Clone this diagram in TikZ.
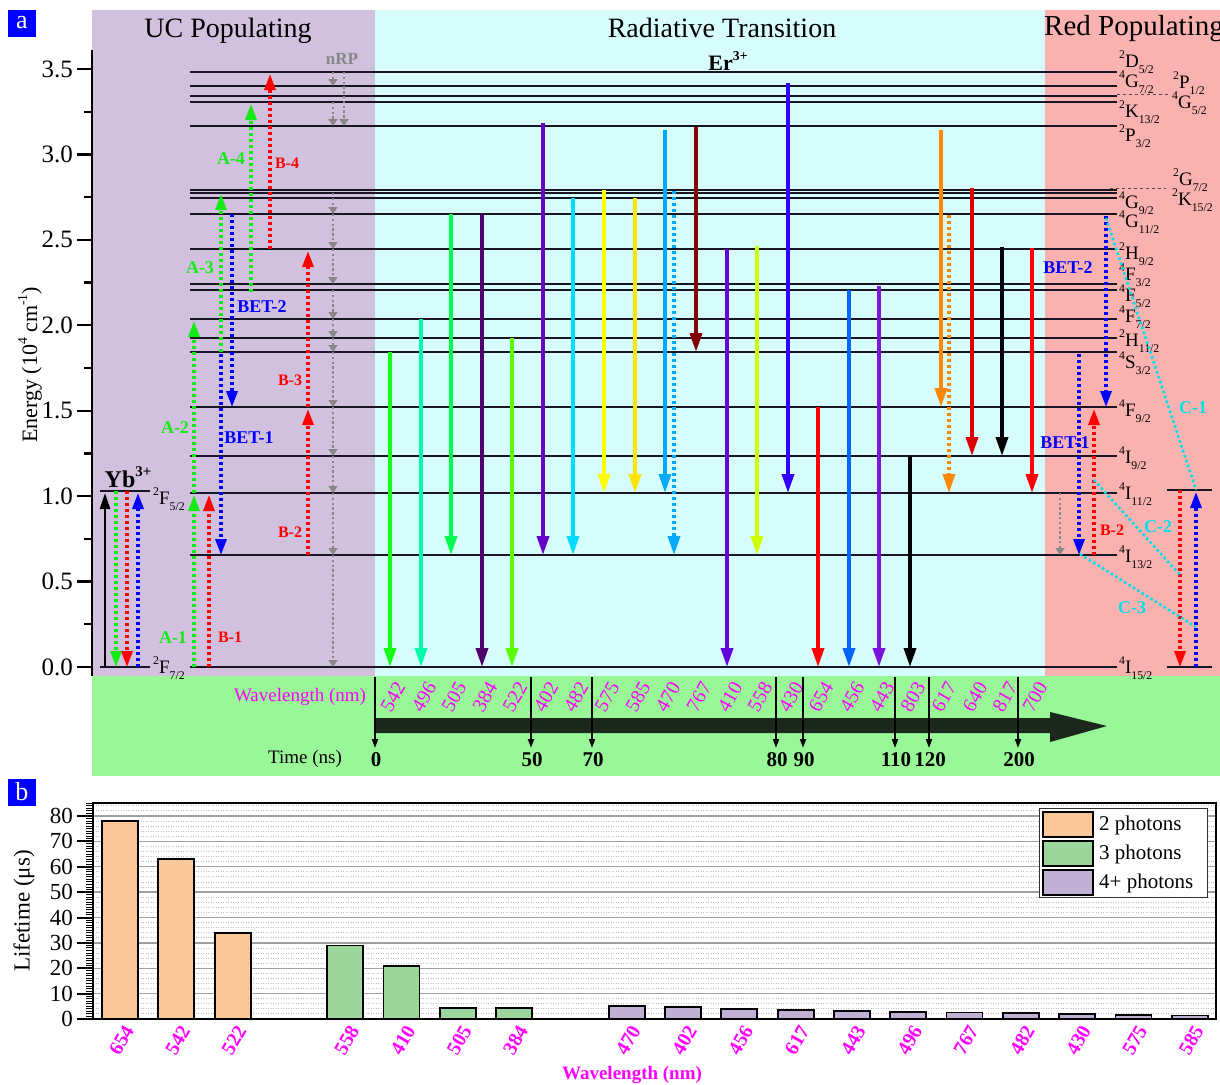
\documentclass[tikz,border=0pt]{standalone}
\usepackage{fontspec}
\usepackage{graphicx}
\setmainfont{Liberation Serif}
\usetikzlibrary{arrows.meta}
\newcommand{\fsz}[1]{\fontsize{#1}{#1}\selectfont}
\newcommand{\sux}[1]{\raisebox{0.45em}{\scalebox{0.62}{#1}}}
\newcommand{\sbx}[1]{\raisebox{-0.32em}{\scalebox{0.62}{#1}}}
\newcommand{\enlev}[3]{\sux{#1}#2\sbx{#3}}
\definecolor{ucbg}{RGB}{209,192,222}
\definecolor{rtbg}{RGB}{214,252,252}
\definecolor{rpbg}{RGB}{250,178,176}
\definecolor{tgbg}{RGB}{153,247,151}
\definecolor{lvlc}{RGB}{25,22,35}
\definecolor{mag}{RGB}{255,0,255}
\definecolor{pblue}{RGB}{0,0,255}
\definecolor{cgreen}{RGB}{20,235,20}
\definecolor{cred}{RGB}{255,0,0}
\definecolor{cblue}{RGB}{0,0,255}
\definecolor{ccyan}{RGB}{0,225,235}
\definecolor{nrpgray}{RGB}{135,135,135}
\definecolor{tarrow}{RGB}{28,40,28}
\definecolor{barO}{RGB}{250,200,152}
\definecolor{barG}{RGB}{156,214,156}
\definecolor{barP}{RGB}{192,176,214}
\definecolor{w542}{RGB}{20,255,20}
\definecolor{w496}{RGB}{0,250,170}
\definecolor{w505}{RGB}{0,250,80}
\definecolor{w384}{RGB}{80,0,110}
\definecolor{w522}{RGB}{90,255,0}
\definecolor{w402}{RGB}{100,0,200}
\definecolor{w482}{RGB}{0,220,255}
\definecolor{w575}{RGB}{255,255,0}
\definecolor{w585}{RGB}{255,228,0}
\definecolor{w470}{RGB}{0,170,255}
\definecolor{w767}{RGB}{130,0,0}
\definecolor{w410}{RGB}{100,0,220}
\definecolor{w558}{RGB}{204,255,0}
\definecolor{w430}{RGB}{50,0,255}
\definecolor{w654}{RGB}{255,0,0}
\definecolor{w456}{RGB}{0,100,255}
\definecolor{w443}{RGB}{120,20,220}
\definecolor{w617}{RGB}{255,136,0}
\definecolor{w640}{RGB}{220,0,0}
\definecolor{w700}{RGB}{255,0,0}
\begin{document}
\begin{tikzpicture}[x=1pt,y=-1pt,
  lvl/.style={line width=2.8pt, draw=lvlc},
  rad/.style={line width=3.6pt, -{Triangle[length=19pt,width=12pt]}},
  raddot/.style={rad, dash pattern=on 3pt off 3pt},
  solidup/.style={line width=2.6pt, -{Triangle[length=16pt,width=10pt]}},
  dotarr/.style={line width=3.2pt, dash pattern=on 3pt off 3pt, -{Triangle[length=16pt,width=11pt]}},
  nrp/.style={draw=nrpgray, line width=2.4pt, dash pattern=on 2.4pt off 2.4pt, -{Triangle[length=7pt,width=9pt]}},
  cline/.style={draw=ccyan, line width=2.6pt, dash pattern=on 2.6pt off 2.6pt},
  lab/.style={font=\fsz{18}\bfseries, inner sep=0pt},
  blab/.style={font=\fsz{16}\bfseries, inner sep=0pt},
  lvlab/.style={anchor=west, inner sep=0pt, font=\fsz{19}},
  ttl/.style={font=\fsz{28}},
  tlab/.style={font=\fsz{21}\bfseries},
  wl/.style={rotate=60, text=mag, font=\fsz{20}, inner sep=0pt},
  bwl/.style={rotate=60, anchor=east, text=mag, font=\fsz{20}\bfseries, inner sep=0pt},
  gridd/.style={draw=gray!50, line width=0.9pt, dash pattern=on 1pt off 1.5pt},
  bar/.style={draw=black, line width=1.8pt},
  plab/.style={fill=pblue, text=white, minimum width=28pt, minimum height=27pt, inner sep=0pt, font=\fsz{26}}
]
\useasboundingbox (0,0) rectangle (1220,1084);
\fill[white] (0,0) rectangle (1220,1084);
% ---------------- panel a backgrounds
\fill[ucbg] (92,10) rectangle (375,676);
\fill[rtbg] (375,10) rectangle (1045,676);
\fill[rpbg] (1045,10) rectangle (1220,676);
\fill[tgbg] (92,676) rectangle (1220,776);
\node[plab] (pa) at (22,23) {a};
\node[ttl] (t1) at (228,31) {UC Populating};
\node[ttl] (t2) at (722,28) {Radiative Transition};
\node[ttl, anchor=west, inner sep=0pt, font=\fsz{29}] (t3) at (1044,29) {Red Populating};
% axis
\draw[line width=2.4pt] (92,50) -- (92,676);
\foreach \e/\t in {0/0.0,0.5/0.5,1/1.0,1.5/1.5,2/2.0,2.5/2.5,3/3.0,3.5/3.5}{
  \draw[line width=2.2pt] (77,{667-170.86*\e}) -- (92,{667-170.86*\e});
  \node[anchor=east, font=\fsz{25}, inner sep=0pt] (ey\t) at (73,{667-170.86*\e}) {\t};
}
\foreach \e in {0.25,0.75,1.25,1.75,2.25,2.75,3.25}
  \draw[line width=2.2pt] (84,{667-170.86*\e}) -- (92,{667-170.86*\e});
\node[rotate=90, font=\fsz{22}] (elab) at (30,365) {Energy (10\sux{4} cm\sux{-1})};
% Er levels
\foreach \y in {667,555,493,456,407,352,338,319,290,284,249,214,198,193,190,126,102,96,86,72}
  \draw[lvl] (190,\y) -- (1117,\y);
% Yb levels
\draw[lvl] (100,491) -- (150,491);
\draw[lvl] (100,667) -- (150,667);
\draw[lvl] (1167,490) -- (1212,490);
\draw[lvl] (1167,667) -- (1212,667);
\node[font=\fsz{24}\bfseries, inner sep=0pt] (yb) at (128,477) {Yb\sux{3+}};
\node[lvlab] (yb5) at (153,499) {\enlev{2}{F}{5/2}};
\node[lvlab] (yb7) at (153,668) {\enlev{2}{F}{7/2}};
\node[font=\fsz{22}\bfseries, inner sep=0pt] (er) at (728,61) {Er\sux{3+}};
\node[font=\fsz{17}\bfseries, text=nrpgray, inner sep=0pt] (nrp) at (342,59) {nRP};
% level labels
\foreach \n/\y/\a/\b/\c in {d52/62/2/D/{5/2}, g72/82/4/G/{7/2}, k132/112/2/K/{13/2}, p32/136/2/P/{3/2}, g92/203/4/G/{9/2}, g112/222/4/G/{11/2}, h92/254/2/H/{9/2}, f32/275/4/F/{3/2}, f52/296/4/F/{5/2}, f72/317/4/F/{7/2}, h112/341/2/H/{11/2}, s32/363/4/S/{3/2}, f92/411/4/F/{9/2}, i92/458/4/I/{9/2}, i112/494/4/I/{11/2}, i132/557/4/I/{13/2}, i152/668/4/I/{15/2}}
  \node[lvlab] (l\n) at (1119,\y) {\enlev{\a}{\b}{\c}};
\draw[dashed, line width=0.7pt, draw=black!70] (1117,94) -- (1170,94);
\draw[dashed, line width=0.7pt, draw=black!70] (1110,188) -- (1166,188);
\node[lvlab] (lp12) at (1173,83) {\enlev{2}{P}{1/2}};
\node[lvlab] (lg52) at (1172,103) {\enlev{4}{G}{5/2}};
\node[lvlab] (lg72) at (1173,180) {\enlev{2}{G}{7/2}};
\node[lvlab] (lk152) at (1172,200) {\enlev{2}{K}{15/2}};
% ---------------- UC populating arrows
\draw[solidup, black] (105,667) -- (105,493);
\draw[dotarr, cgreen] (116,491) -- (116,667);
\draw[dotarr, cred] (127,491) -- (127,667);
\draw[dotarr, cblue] (138,667) -- (138,493);
\draw[dotarr, cgreen] (194,667) -- (194,495);
\draw[dotarr, cgreen] (194,493) -- (194,321);
\draw[dotarr, cgreen] (221,352) -- (221,194);
\draw[dotarr, cgreen] (251,292) -- (251,104);
\draw[dotarr, cred] (209,667) -- (209,495);
\draw[dotarr, cred] (308,555) -- (308,409);
\draw[dotarr, cred] (308,407) -- (308,251);
\draw[dotarr, cred] (270,249) -- (270,74);
\draw[dotarr, cblue] (221,354) -- (221,555);
\draw[dotarr, cblue] (232,214) -- (232,407);
\node[lab, text=cgreen] (a1) at (173,638) {A-1};
\node[lab, text=cgreen] (a2) at (175,428) {A-2};
\node[lab, text=cgreen] (a3) at (200,268) {A-3};
\node[lab, text=cgreen] (a4) at (231,159) {A-4};
\node[blab, text=cred] (b1) at (230,637) {B-1};
\node[blab, text=cred] (b2) at (290,532) {B-2};
\node[blab, text=cred] (b3) at (290,380) {B-3};
\node[blab, text=cred] (b4) at (287,163) {B-4};
\node[lab, text=cblue] (bet1) at (249,438) {BET-1};
\node[lab, text=cblue] (bet2) at (262,307) {BET-2};
% nRP
\foreach \ya/\yb in {72/86, 102/126, 193/214, 214/249, 249/284, 290/319, 319/338, 338/352, 352/407, 407/456, 456/493, 493/555, 555/667}
  \draw[nrp] (333,\ya) -- (333,\yb);
\draw[nrp] (344,72) -- (344,126);
% ---------------- radiative transitions
\foreach \x/\ya/\yb/\c in {390/352/667/w542, 421/319/667/w496, 451/214/555/w505, 482/214/667/w384, 512/338/667/w522, 543/123/555/w402, 573/198/555/w482, 604/190/493/w575, 635/198/493/w585, 665/130/493/w470, 696/127/352/w767, 727/249/667/w410, 757/246/555/w558, 788/83/493/w430, 818/407/667/w654, 849/290/667/w456, 879/286/667/w443, 910/456/667/black, 941/130/407/w617, 972/188/456/w640, 1002/247/456/black, 1032/248/493/w700}
  \draw[rad, color=\c] (\x,\ya) -- (\x,\yb);
\draw[raddot, color=w470] (674,191) -- (674,555);
\draw[raddot, color=w617] (949,215) -- (949,493);
% ---------------- red populating
\draw[dotarr, cblue] (1106,216) -- (1106,407);
\draw[dotarr, cblue] (1079,354) -- (1079,555);
\draw[dotarr, cred] (1094,555) -- (1094,409);
\draw[nrp] (1060,493) -- (1060,555);
\draw[dotarr, cred] (1180,490) -- (1180,667);
\draw[dotarr, cblue] (1196,667) -- (1196,492);
\draw[cline] (1106,218) -- (1196,490);
\draw[cline] (1094,480) -- (1180,575);
\draw[cline] (1080,554) -- (1196,627);
\node[lab, text=cblue] (rbet2) at (1068,268) {BET-2};
\node[lab, text=cblue] (rbet1) at (1065,443) {BET-1};
\node[blab, text=cred] (rb2) at (1112,530) {B-2};
\node[lab, text=ccyan] (c1) at (1193,408) {C-1};
\node[lab, text=ccyan] (c2) at (1158,527) {C-2};
\node[lab, text=ccyan] (c3) at (1132,608) {C-3};
% ---------------- time axis
\fill[tarrow] (375,718) -- (1050,718) -- (1050,712) -- (1107,726) -- (1050,742) -- (1050,733) -- (375,733) -- cycle;
\node[font=\fsz{19}, text=mag, inner sep=0pt] (wlab) at (300,697) {Wavelength (nm)};
\foreach \t/\x in {542/390, 496/421, 505/451, 384/482, 522/512, 402/543, 482/573, 575/604, 585/635, 470/665, 767/696, 410/727, 558/757, 430/788, 654/818, 456/849, 443/879, 803/910, 617/941, 640/972, 817/1002, 700/1032}
  \node[wl] (wl\t) at ({\x+3},697) {\t};
\foreach \t/\x in {0/375, 50/531, 70/592, 80/776, 90/803, 110/895, 120/929, 200/1018}{
  \draw[line width=1.8pt, -{Triangle[length=9pt,width=6pt]}] (\x,677) -- (\x,748);
  \node[tlab, inner sep=0pt] (tt\t) at ({\x+1},760) {\t};
}
\node[font=\fsz{19}, inner sep=0pt] (tlab) at (305,759) {Time (ns)};
% ---------------- panel b
\node[plab] (pb) at (22,792) {b};
\foreach \v in {2,4,...,84}
  \draw[gridd] (93,{1019-2.5375*\v}) -- (1216,{1019-2.5375*\v});
\foreach \v in {10,20,...,80}
  \draw[draw=gray!75, line width=1.3pt] (93,{1019-2.5375*\v}) -- (1216,{1019-2.5375*\v});
\foreach \i/\v/\c in {0/78/barO, 1/63/barO, 2/34/barO, 4/29/barG, 5/21/barG, 6/4.2/barG, 7/4.2/barG, 9/5.2/barP, 10/4.6/barP, 11/3.8/barP, 12/3.7/barP, 13/3.1/barP, 14/2.9/barP, 15/2.6/barP, 16/2.5/barP, 17/2.0/barP, 18/1.7/barP, 19/1.4/barP}
  \draw[bar, fill=\c] ({120+56.3*\i-18},1019) rectangle ({120+56.3*\i+18},{1019-2.5375*\v});
\draw[line width=2pt] (93,803) rectangle (1216,1019);
\draw[line width=2.4pt] (77,1019) -- (1216,1019);
\foreach \v in {1,...,85}
  \draw[line width=1pt] (86,{1019-2.5375*\v}) -- (93,{1019-2.5375*\v});
\foreach \v in {0,10,...,80}{
  \draw[line width=2pt] (77,{1019-2.5375*\v}) -- (93,{1019-2.5375*\v});
  \node[anchor=east, font=\fsz{23}, inner sep=0pt] (by\v) at (73,{1019-2.5375*\v}) {\v};
}
\node[rotate=90, font=\fsz{23}] (ylab) at (24,911) {Lifetime (μs)};
\foreach \i/\t in {0/654,1/542,2/522,4/558,5/410,6/505,7/384,9/470,10/402,11/456,12/617,13/443,14/496,15/767,16/482,17/430,18/575,19/585}
  \node[bwl] (bx\i) at ({120+56.3*\i+9},1027) {\t};
\node[font=\fsz{19}\bfseries, text=mag, inner sep=0pt] (bxlab) at (632,1075) {Wavelength (nm)};
% legend
\draw[fill=white, draw=black!80, line width=1pt] (1039,808) rectangle (1207,897);
\foreach \k/\c/\t in {0/barO/2 photons, 1/barG/3 photons, 2/barP/4+ photons}{
  \draw[fill=\c, line width=1.6pt] (1043,{812+29*\k}) rectangle (1093,{837+29*\k});
  \node[anchor=west, font=\fsz{21}, inner sep=0pt] (lg\k) at (1099,{825+29*\k}) {\t};
}
\end{tikzpicture}
\end{document}
